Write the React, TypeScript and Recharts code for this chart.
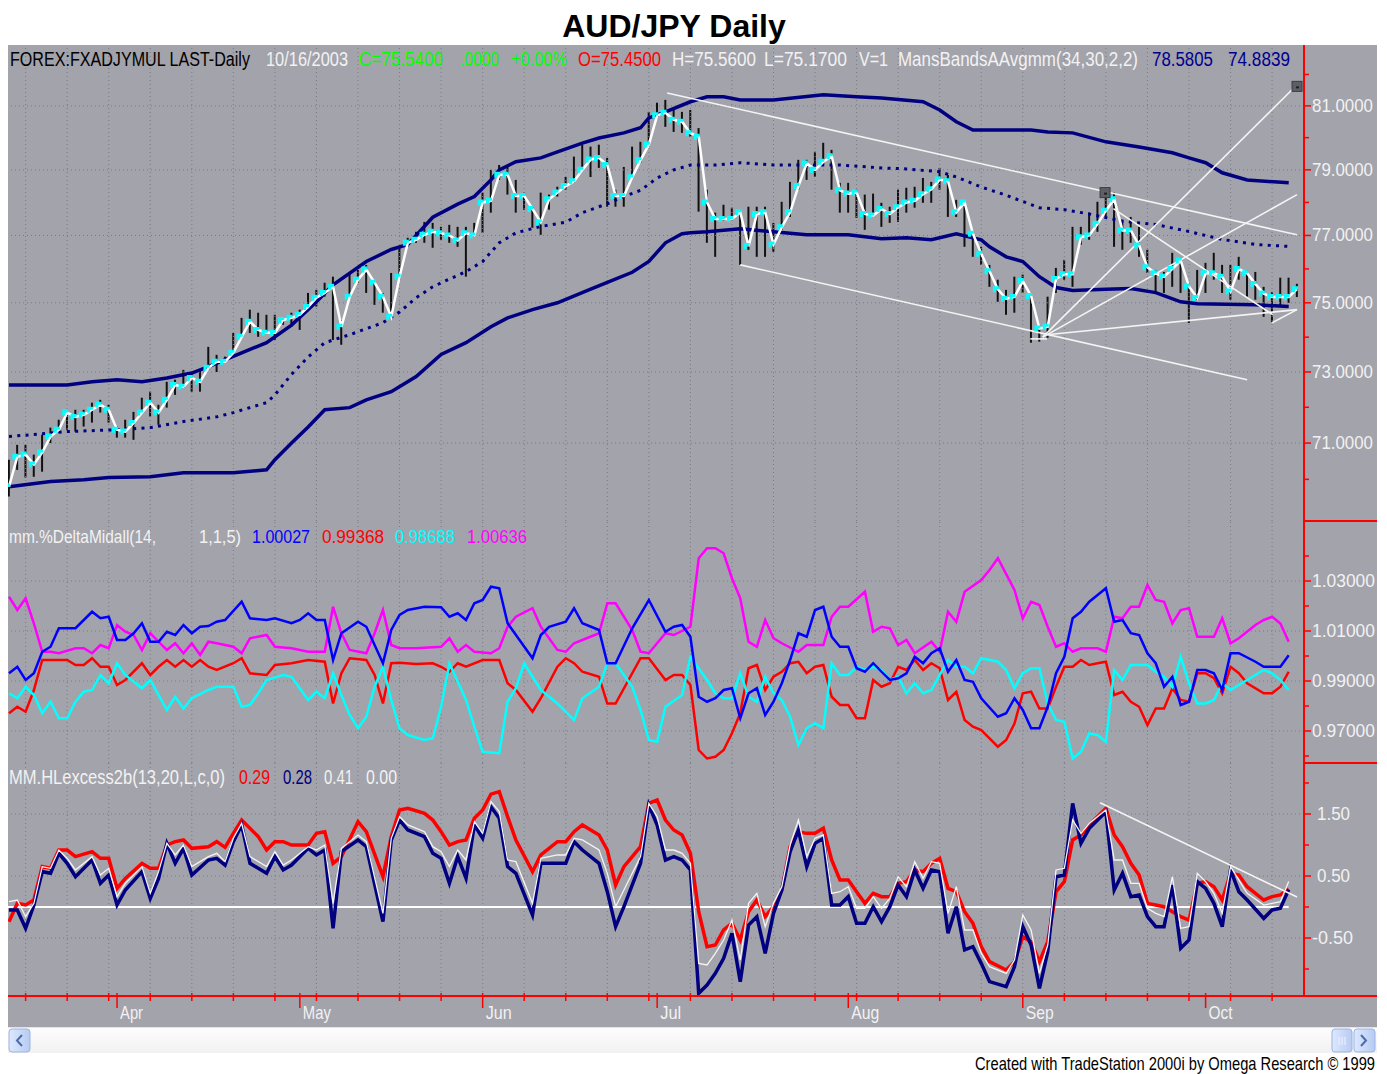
import React from 'react';
import { ComposedChart, Line, Bar, XAxis, YAxis, ReferenceLine, ReferenceDot } from 'recharts';

const FONT = "'Liberation Sans', Arial, sans-serif";
const BG = '#a3a3ab';
const GRID = '#7a7a82';
const NAVY = '#000080';
const LABEL = '#f2f2f2';

// ---------- price pane ----------
const closes = [
  69.80, 70.62, 70.68, 70.41, 70.74, 71.18, 71.37, 71.85, 71.73, 71.79,
  71.93, 72.07, 71.93, 71.37, 71.32, 71.56, 71.85, 72.13, 71.85, 72.21,
  72.63, 72.58, 72.83, 72.72, 73.12, 73.29, 73.29, 73.55, 74.01, 74.45,
  74.21, 74.13, 74.13, 74.50, 74.56, 74.65, 74.88, 75.15, 75.29, 75.47,
  74.30, 75.18, 75.68, 75.98, 75.59, 75.18, 74.59, 75.77, 76.78, 76.87,
  77.02, 77.11, 77.07, 77.00, 76.85, 77.07, 77.00, 78.00, 78.05, 78.85,
  78.85, 78.20, 78.20, 77.80, 77.40, 78.10, 78.30, 78.50, 78.65, 79.00,
  79.32, 79.37, 79.15, 78.20, 78.20, 78.77, 79.30, 79.78, 80.70, 80.78,
  80.56, 80.50, 80.14, 80.03, 78.00, 77.50, 77.50, 77.50, 77.70, 76.68,
  77.65, 77.70, 76.73, 77.25, 77.70, 78.50, 79.20, 79.00, 79.25, 79.42,
  78.37, 78.27, 78.30, 77.65, 77.60, 77.80, 77.65, 77.85, 78.00, 78.05,
  78.25, 78.40, 78.70, 78.65, 77.70, 78.00, 77.05, 76.45, 75.93, 75.40,
  75.12, 75.17, 75.64, 75.20, 74.25, 74.30, 75.70, 75.84, 75.84, 76.95,
  77.00, 77.35, 77.75, 78.10, 77.15, 77.15, 76.70, 76.05, 75.87, 75.77,
  76.00, 76.25, 75.48, 75.14, 75.87, 75.87, 75.77, 75.33, 76.00, 75.87,
  75.55, 75.27, 75.17, 75.17, 75.17, 75.40,
];
const highs = [
  70.54, 70.95, 70.95, 70.68, 71.23, 71.43, 71.65, 71.87, 71.93, 71.93,
  72.13, 72.21, 72.07, 71.46, 71.65, 71.87, 72.27, 72.44, 72.07, 72.72,
  72.78, 73.06, 72.97, 73.06, 73.72, 73.49, 73.44, 74.12, 74.56, 74.80,
  74.71, 74.65, 74.65, 74.56, 74.71, 74.80, 75.29, 75.38, 75.59, 75.77,
  74.50, 75.88, 75.97, 76.12, 75.59, 75.29, 75.88, 76.63, 76.93, 77.11,
  77.41, 77.38, 77.26, 77.32, 77.26, 77.26, 77.38, 78.30, 79.00, 79.15,
  79.09, 78.69, 78.30, 77.87, 78.30, 78.24, 78.48, 78.78, 79.41, 79.78,
  79.72, 79.78, 79.37, 78.39, 79.09, 79.72, 79.87, 80.81, 81.10, 81.19,
  80.87, 80.81, 80.87, 80.30, 78.39, 77.69, 77.93, 77.84, 77.72, 77.87,
  77.87, 77.87, 77.38, 78.02, 78.63, 79.31, 79.31, 79.56, 79.84, 79.62,
  78.60, 78.60, 78.39, 78.24, 78.27, 77.99, 77.87, 78.39, 78.45, 78.48,
  78.75, 78.63, 79.06, 78.84, 78.08, 78.05, 77.08, 76.66, 76.12, 75.68,
  75.38, 75.77, 75.83, 75.29, 74.30, 75.18, 76.03, 76.27, 77.26, 77.26,
  77.69, 78.02, 78.39, 78.30, 77.47, 77.56, 77.26, 76.57, 75.97, 75.91,
  76.48, 76.33, 75.59, 75.97, 76.18, 76.48, 76.12, 76.12, 76.36, 75.95,
  75.91, 75.47, 75.32, 75.74, 75.74, 75.56,
];
const lows = [
  69.53, 70.26, 70.05, 70.07, 70.21, 71.00, 71.29, 71.37, 71.32, 71.46,
  71.57, 71.85, 71.57, 71.15, 71.15, 71.09, 71.85, 71.74, 71.51, 71.99,
  72.35, 72.55, 72.44, 72.44, 73.06, 73.00, 73.26, 73.50, 74.01, 74.12,
  74.01, 74.12, 73.92, 74.36, 74.30, 74.21, 74.80, 74.89, 75.18, 73.92,
  73.78, 75.18, 75.59, 75.29, 74.94, 74.71, 74.59, 75.68, 76.66, 76.78,
  76.78, 76.63, 76.87, 76.78, 76.66, 75.77, 76.96, 77.08, 77.69, 78.69,
  78.24, 77.69, 77.78, 77.23, 77.02, 77.78, 78.18, 78.39, 78.60, 79.00,
  78.78, 79.06, 77.87, 77.87, 77.87, 78.78, 79.22, 79.72, 80.65, 80.34,
  80.18, 80.15, 80.03, 77.72, 76.78, 76.36, 77.45, 77.45, 76.12, 76.57,
  76.36, 76.36, 76.51, 77.17, 77.56, 78.39, 78.69, 78.78, 79.15, 78.39,
  77.69, 77.69, 77.53, 77.17, 77.56, 77.26, 77.38, 77.41, 77.69, 77.84,
  77.99, 77.99, 78.39, 77.56, 77.56, 76.66, 76.36, 76.12, 75.47, 75.03,
  74.65, 74.71, 75.29, 73.84, 73.87, 73.98, 75.29, 75.68, 75.47, 76.72,
  76.87, 77.11, 77.56, 76.66, 76.57, 76.78, 76.36, 75.88, 75.33, 75.29,
  75.47, 75.29, 74.41, 75.09, 75.29, 75.68, 75.29, 75.09, 75.68, 75.18,
  75.09, 74.59, 74.44, 74.89, 75.00, 75.17,
];

const upperBand: [number, number][] = [
  [0, 72.63], [7, 72.63], [10, 72.72], [13, 72.78], [16, 72.72], [19, 72.83], [22, 72.97], [24, 73.15],
  [28, 73.55], [31, 73.84], [34, 74.35], [37, 75.03], [39, 75.53], [43, 76.22], [46, 76.58], [48, 76.73],
  [51, 77.55], [54, 77.95], [56, 78.18], [58, 78.69], [59, 79.0], [61, 79.25], [64, 79.37], [66, 79.56],
  [69, 79.83], [71, 79.99], [74, 80.15], [76, 80.31], [77, 80.62], [79, 80.81], [82, 81.13], [84, 81.29],
  [86, 81.29], [88, 81.19], [92, 81.19], [98, 81.35], [102, 81.29], [105, 81.25], [110, 81.13], [112, 80.87],
  [114, 80.5], [116, 80.24], [120, 80.24], [123, 80.24], [125, 80.18], [128, 80.15], [132, 79.87], [136, 79.71],
  [140, 79.53], [142, 79.37], [144, 79.22], [146, 78.91], [149, 78.69], [154, 78.6],
];
const lowerBand: [number, number][] = [
  [0, 69.8], [5, 69.94], [9, 69.99], [12, 70.05], [17, 70.07], [21, 70.18], [27, 70.18], [31, 70.26],
  [32, 70.54], [34, 71.0], [36, 71.45], [38, 71.93], [41, 71.99], [43, 72.21], [46, 72.44], [49, 72.87],
  [52, 73.5], [55, 73.84], [58, 74.3], [60, 74.56], [63, 74.8], [66, 75.0], [70, 75.4], [72, 75.6],
  [75, 75.9], [77, 76.22], [79, 76.78], [81, 77.05], [82, 77.08], [84, 77.11], [88, 77.2], [92, 77.11],
  [96, 77.02], [101, 77.02], [105, 76.9], [108, 76.93], [111, 76.87], [114, 77.05], [117, 76.87], [118, 76.66],
  [120, 76.36], [122, 76.22], [124, 75.77], [126, 75.45], [128, 75.36], [132, 75.4], [135, 75.42], [138, 75.3],
  [141, 75.03], [143, 74.97], [150, 74.94], [154, 74.89],
];
const midBand: [number, number][] = [
  [0, 71.18], [7, 71.32], [13, 71.37], [17, 71.43], [21, 71.6], [25, 71.73], [27, 71.85], [31, 72.13],
  [32, 72.35], [34, 72.93], [36, 73.43], [38, 73.84], [41, 74.07], [45, 74.42], [47, 74.73], [49, 75.15],
  [51, 75.47], [53, 75.7], [55, 75.92], [57, 76.22], [59, 76.78], [61, 77.08], [64, 77.27], [67, 77.4],
  [69, 77.69], [72, 77.96], [74, 78.18], [76, 78.37], [78, 78.75], [80, 79.0], [82, 79.15], [85, 79.15],
  [88, 79.22], [92, 79.15], [96, 79.15], [100, 79.15], [105, 79.06], [108, 79.03], [112, 78.94], [114, 78.78],
  [117, 78.47], [120, 78.22], [124, 77.84], [127, 77.78], [130, 77.65], [134, 77.43], [138, 77.33], [142, 77.12],
  [146, 76.88], [150, 76.73], [154, 76.67],
];
// white drawn trendlines on price pane: [bar, price, bar, price]
const priceTrends: [number, number, number, number][] = [
  [79.2, 81.41, 155, 77.02],
  [88, 76.12, 149, 72.78],
  [124.4, 74.0, 155, 81.67],
  [124.4, 74.0, 155, 78.24],
  [124.9, 74.07, 155, 74.8],
  [132.9, 77.81, 152.1, 74.65],
  [152, 74.42, 155, 74.8],
  [122.9, 73.95, 124.9, 73.95],
];
const priceBoxes: [number, number][] = [[131.9, 78.3], [155, 81.62]];

// ---------- %DeltaMidall pane ----------
const blueOsc: [number, number][] = [
  [0, 0.9931], [1, 0.9957], [2, 0.9904], [3, 0.9931], [4, 1.0017], [5, 1.0037], [6, 1.0111], [8, 1.0111], [10, 1.0177], [11, 1.0151],
  [12, 1.0157], [13, 1.0064], [14, 1.0064], [15, 1.0091], [16, 1.0131], [17, 1.0057], [18, 1.0057], [19, 1.0097], [20, 1.0084], [21, 1.0124],
  [22, 1.0091], [23, 1.0117], [24, 1.012], [25, 1.0137], [26, 1.0144], [28, 1.0217], [29, 1.0151], [31, 1.0144], [32, 1.0151], [34, 1.0131],
  [35, 1.0144], [36, 1.0171], [37, 1.0144], [38, 1.0144], [39, 0.9984], [40, 1.0091], [42, 1.0137], [43, 1.0117], [45, 0.9971], [46, 1.0104],
  [47, 1.0164], [48, 1.0184], [50, 1.0197], [52, 1.0195], [53, 1.0157], [54, 1.0171], [55, 1.0144], [56, 1.0211], [57, 1.0224], [58, 1.0277],
  [59, 1.0271], [60, 1.0131], [63, 0.9991], [64, 1.0084], [65, 1.0117], [67, 1.0137], [68, 1.0191], [69, 1.0131], [71, 1.0104], [72, 0.9971],
  [73, 0.9971], [75, 1.0111], [77, 1.0224], [79, 1.0097], [80, 1.0117], [81, 1.0124], [82, 1.0077], [83, 0.9837], [84, 0.9817], [85, 0.9831],
  [86, 0.9864], [87, 0.9871], [88, 0.9751], [89, 0.9851], [90, 0.9871], [91, 0.9764], [92, 0.9817], [93, 0.9891], [94, 0.9984], [95, 1.0091],
  [96, 1.0077], [97, 1.0184], [98, 1.0197], [99, 1.0077], [100, 1.0037], [101, 1.0037], [102, 0.9951], [103, 0.9937], [104, 0.9971], [105, 0.9937],
  [106, 0.9904], [107, 0.9911], [108, 0.9931], [109, 0.9997], [110, 0.9971], [111, 1.0011], [112, 1.0031], [113, 0.9937], [114, 0.9984], [115, 0.9904],
  [116, 0.9897], [117, 0.9831], [119, 0.9757], [120, 0.9771], [121, 0.9831], [122, 0.9784], [123, 0.9711], [124, 0.9711], [125, 0.9797], [126, 0.9931],
  [127, 0.9997], [128, 1.0151], [129, 1.0177], [130, 1.0217], [131, 1.0244], [132, 1.0271], [133, 1.0137], [134, 1.0144], [135, 1.0091], [136, 1.0084],
  [137, 1.0011], [138, 0.9971], [139, 0.9877], [140, 0.9917], [141, 0.9804], [142, 0.9817], [143, 0.9944], [144, 0.9944], [145, 0.9931], [146, 0.9864],
  [147, 1.0011], [148, 1.0011], [150, 0.9977], [151, 0.9957], [153, 0.9957], [154, 1.0003],
];
const redOsc: [number, number][] = [
  [0, 0.9771], [1, 0.9797], [2, 0.9777], [3, 0.9864], [4, 0.9984], [5, 0.9984], [7, 0.9984], [8, 0.9964], [9, 0.9964], [10, 0.9991],
  [11, 0.9957], [12, 0.9957], [13, 0.9884], [14, 0.9904], [16, 0.9971], [17, 0.9924], [18, 0.9957], [19, 0.9984], [20, 0.9957], [21, 0.9984],
  [22, 0.9957], [23, 0.9984], [24, 0.9957], [25, 0.9944], [27, 0.9971], [28, 0.9991], [29, 0.9931], [31, 0.9924], [32, 0.9964], [34, 0.9971],
  [36, 0.9984], [38, 0.9977], [39, 0.981], [40, 0.9931], [41, 0.9991], [43, 0.9984], [44, 0.9924], [45, 0.981], [46, 0.9971], [47, 0.9973],
  [49, 0.9968], [51, 0.9971], [52, 0.9957], [53, 0.9937], [54, 0.9971], [55, 0.9957], [57, 0.9984], [59, 0.9984], [60, 0.9891], [61, 0.9864],
  [63, 0.9777], [64, 0.9831], [66, 0.9957], [67, 0.9991], [68, 0.9971], [69, 0.9937], [71, 0.9917], [72, 0.981], [73, 0.981], [75, 0.9931],
  [76, 0.9991], [77, 0.9991], [79, 0.9904], [80, 0.9924], [81, 0.9924], [82, 0.9884], [83, 0.9624], [84, 0.959], [85, 0.9597], [86, 0.9624],
  [87, 0.9691], [88, 0.9771], [89, 0.9951], [90, 0.9964], [91, 0.9864], [92, 0.9917], [93, 0.9937], [94, 0.9971], [95, 0.9977], [96, 0.9931],
  [97, 0.9957], [98, 0.9964], [99, 0.9837], [100, 0.9804], [101, 0.9804], [102, 0.9751], [103, 0.9751], [104, 0.9904], [105, 0.9877], [106, 0.9891],
  [107, 0.9957], [108, 0.9944], [109, 0.9984], [110, 0.9944], [111, 0.9971], [112, 0.9951], [113, 0.9824], [114, 0.9857], [115, 0.9744], [116, 0.9717],
  [117, 0.9704], [119, 0.9637], [120, 0.9664], [121, 0.973], [122, 0.9851], [123, 0.9857], [124, 0.979], [125, 0.979], [126, 0.9877], [127, 0.9957],
  [128, 0.9957], [129, 0.9984], [130, 0.9964], [131, 0.9971], [132, 0.9977], [133, 0.9844], [134, 0.9857], [135, 0.9817], [136, 0.9797], [137, 0.9724],
  [138, 0.979], [139, 0.979], [140, 0.9871], [141, 0.9824], [142, 0.9817], [143, 0.9931], [144, 0.9931], [145, 0.9911], [146, 0.9851], [147, 0.9957],
  [148, 0.9931], [149, 0.9891], [151, 0.9851], [152, 0.9851], [153, 0.9877], [154, 0.9937],
];
const cyanOsc: [number, number][] = [
  [0, 0.9851], [1, 0.9831], [2, 0.9877], [3, 0.9844], [4, 0.9771], [5, 0.9817], [6, 0.9751], [7, 0.9751], [8, 0.9817], [9, 0.9857],
  [10, 0.9864], [11, 0.9924], [12, 0.9891], [13, 0.9971], [14, 0.9924], [16, 0.9871], [17, 0.9904], [19, 0.9784], [20, 0.9837], [21, 0.979],
  [22, 0.9831], [24, 0.9864], [25, 0.9877], [27, 0.9877], [28, 0.9797], [29, 0.9804], [30, 0.9851], [31, 0.9904], [33, 0.9924], [34, 0.9917],
  [36, 0.9824], [37, 0.9857], [38, 0.9831], [39, 0.9931], [40, 0.9844], [41, 0.9764], [42, 0.9711], [43, 0.9757], [44, 0.9877], [45, 0.9957],
  [46, 0.9824], [47, 0.9711], [48, 0.9684], [50, 0.9664], [51, 0.9671], [52, 0.9797], [53, 0.9971], [55, 0.9824], [56, 0.9717], [57, 0.9617],
  [59, 0.9611], [60, 0.9817], [61, 0.9871], [62, 0.9971], [63, 0.9917], [64, 0.9864], [66, 0.981], [68, 0.9744], [69, 0.9831], [71, 0.9877],
  [72, 0.9971], [73, 0.9971], [75, 0.9877], [76, 0.9784], [77, 0.9664], [78, 0.9657], [79, 0.9797], [81, 0.9844], [82, 0.9997], [83, 0.9951],
  [84, 0.9904], [85, 0.9851], [86, 0.9831], [87, 0.9831], [88, 0.9931], [89, 0.9837], [90, 0.9817], [91, 0.9917], [92, 0.9851], [93, 0.9824],
  [94, 0.9757], [95, 0.9644], [96, 0.9711], [97, 0.9731], [98, 0.9711], [99, 0.9971], [100, 0.9924], [101, 0.9924], [102, 0.9957], [103, 0.9944],
  [104, 0.9957], [105, 0.9944], [106, 0.9904], [107, 0.9917], [108, 0.9851], [109, 0.9891], [110, 0.9851], [111, 0.9864], [113, 0.9984], [114, 0.9957],
  [115, 0.9957], [116, 0.9931], [117, 0.9991], [119, 0.9977], [120, 0.9944], [121, 0.9871], [122, 0.9931], [123, 0.9951], [124, 0.9951], [125, 0.981],
  [126, 0.9744], [127, 0.9737], [128, 0.959], [129, 0.9617], [130, 0.969], [131, 0.9684], [132, 0.9657], [133, 0.9944], [134, 0.9904], [135, 0.9964],
  [137, 0.9964], [138, 0.9937], [139, 0.9917], [140, 0.9877], [141, 0.9997], [142, 0.9891], [143, 0.981], [144, 0.981], [145, 0.9824], [146, 0.9891],
  [147, 0.9864], [148, 0.9884], [149, 0.9904], [151, 0.9944], [152, 0.9931], [153, 0.9904], [154, 0.9864],
];
const magentaOsc: [number, number][] = [
  [0, 1.0237], [1, 1.0184], [2, 1.0231], [3, 1.013], [4, 1.0017], [5, 1.0017], [6, 1.0011], [8, 1.0031], [9, 1.0031], [10, 1.0011],
  [11, 1.0044], [12, 1.0031], [13, 1.0124], [14, 1.0097], [15, 1.0084], [16, 1.0024], [17, 1.0091], [18, 1.0057], [19, 1.0024], [20, 1.0051],
  [21, 1.0011], [22, 1.0051], [23, 1.0004], [24, 1.0057], [25, 1.0051], [27, 1.0037], [28, 1.0011], [29, 1.0071], [31, 1.0084], [32, 1.0037],
  [34, 1.0031], [36, 1.0017], [38, 1.0017], [39, 1.0197], [40, 1.0091], [41, 1.0024], [43, 1.0011], [44, 1.0091], [45, 1.0184], [46, 1.0044],
  [47, 1.0031], [49, 1.0031], [52, 1.0037], [53, 1.0071], [54, 1.0017], [55, 1.0044], [56, 1.0017], [58, 1.0011], [59, 1.0031], [60, 1.0117],
  [61, 1.0157], [63, 1.0191], [64, 1.0117], [66, 1.0024], [67, 1.0017], [68, 1.0051], [69, 1.0064], [71, 1.0091], [72, 1.0211], [73, 1.0211],
  [75, 1.0104], [76, 1.0017], [77, 1.0011], [79, 1.0091], [80, 1.0084], [82, 1.0117], [83, 1.0391], [84, 1.0431], [85, 1.0431], [86, 1.0411],
  [87, 1.0311], [88, 1.0231], [89, 1.0057], [90, 1.0037], [91, 1.0144], [92, 1.0071], [93, 1.0051], [95, 1.0017], [96, 1.0044], [98, 1.0044],
  [99, 1.0157], [100, 1.0197], [101, 1.0197], [103, 1.0257], [104, 1.0097], [105, 1.0117], [106, 1.0111], [107, 1.0044], [108, 1.0064], [109, 1.0011],
  [111, 1.0057], [112, 1.0017], [113, 1.0177], [114, 1.0137], [115, 1.0257], [117, 1.0304], [118, 1.0344], [119, 1.0391], [121, 1.0264], [122, 1.0151],
  [123, 1.0217], [124, 1.0204], [125, 1.0117], [126, 1.0037], [127, 1.0051], [128, 1.0017], [129, 1.0031], [131, 1.0031], [132, 1.0017], [133, 1.0157],
  [134, 1.0151], [135, 1.0197], [136, 1.0197], [137, 1.0284], [138, 1.0224], [139, 1.0217], [140, 1.013], [141, 1.0184], [142, 1.0191], [143, 1.0077],
  [145, 1.0077], [146, 1.0151], [147, 1.0051], [148, 1.0071], [150, 1.0124], [151, 1.0144], [152, 1.0157], [153, 1.013], [154, 1.0057],
];

// ---------- HLexcess pane ----------
const redExc: [number, number][] = [
  [0, -0.237], [1, 0.059], [2, 0.032], [3, 0.113], [4, 0.651], [5, 0.624], [6, 0.919], [7, 0.919], [8, 0.812], [10, 0.893],
  [11, 0.785], [12, 0.785], [13, 0.301], [14, 0.462], [16, 0.704], [17, 0.624], [18, 0.624], [19, 1.0], [20, 1.054], [21, 1.081],
  [22, 0.946], [24, 0.973], [25, 1.054], [26, 0.962], [27, 1.188], [28, 1.403], [30, 1.134], [31, 0.919], [32, 1.054], [33, 1.054],
  [34, 1.0], [36, 1.0], [37, 1.188], [38, 1.215], [39, 0.704], [40, 0.812], [42, 1.376], [43, 1.215], [45, 0.489], [46, 1.134],
  [47, 1.565], [48, 1.591], [50, 1.511], [51, 1.403], [52, 1.215], [53, 1.0], [54, 1.054], [55, 1.081], [56, 1.43], [57, 1.565],
  [58, 1.82], [59, 1.86], [60, 1.457], [61, 1.081], [63, 0.57], [64, 0.839], [66, 1.054], [67, 1.054], [68, 1.215], [69, 1.323],
  [71, 1.161], [72, 0.919], [73, 0.355], [74, 0.651], [76, 0.973], [77, 1.672], [78, 1.726], [79, 1.403], [80, 1.242], [81, 1.161],
  [82, 0.866], [83, -0.075], [84, -0.64], [85, -0.613], [86, -0.371], [87, -0.263], [88, -0.532], [89, -0.075], [90, 0.113], [91, -0.156],
  [92, 0.005], [93, 0.274], [94, 0.973], [95, 1.215], [96, 1.188], [97, 1.188], [98, 1.269], [99, 0.758], [100, 0.435], [101, 0.435],
  [102, 0.247], [103, 0.059], [104, 0.22], [105, 0.167], [106, 0.167], [107, 0.382], [108, 0.409], [109, 0.597], [110, 0.57], [111, 0.704],
  [112, 0.785], [113, 0.301], [114, 0.247], [115, -0.075], [116, -0.263], [117, -0.64], [118, -0.882], [120, -1.016], [121, -0.882], [122, -0.479],
  [123, -0.559], [124, -0.882], [125, -0.559], [126, 0.247], [127, 0.409], [128, 1.081], [129, 1.161], [130, 1.323], [132, 1.591], [133, 1.161],
  [134, 0.973], [135, 0.704], [136, 0.516], [137, 0.059], [138, 0.032], [139, 0.005], [140, -0.075], [141, -0.156], [142, -0.21], [143, 0.382],
  [144, 0.409], [145, 0.328], [146, 0.113], [147, 0.543], [148, 0.516], [149, 0.328], [151, 0.113], [152, 0.167], [153, 0.194], [154, 0.29],
];
const navyExc: [number, number][] = [
  [0, -0.048], [1, -0.048], [2, -0.344], [3, 0.032], [4, 0.57], [5, 0.543], [6, 0.866], [7, 0.704], [8, 0.489], [10, 0.758],
  [11, 0.382], [12, 0.516], [13, 0.032], [14, 0.274], [16, 0.57], [17, 0.14], [18, 0.462], [19, 1.027], [20, 0.704], [21, 0.946],
  [22, 0.516], [24, 0.758], [25, 0.785], [26, 0.677], [27, 1.054], [28, 1.323], [29, 0.704], [31, 0.543], [32, 0.812], [33, 0.597],
  [34, 0.677], [36, 0.946], [37, 0.839], [38, 0.919], [39, -0.344], [40, 0.893], [42, 1.081], [43, 0.973], [45, -0.237], [46, 1.081],
  [47, 1.403], [48, 1.242], [50, 1.134], [51, 0.866], [52, 0.785], [53, 0.382], [54, 0.812], [55, 0.462], [56, 1.323], [57, 1.109],
  [58, 1.618], [59, 1.43], [60, 0.651], [61, 0.543], [63, -0.129], [64, 0.704], [66, 0.704], [67, 0.704], [68, 1.054], [69, 0.919],
  [71, 0.704], [72, 0.247], [73, -0.317], [74, 0.005], [76, 0.704], [77, 1.645], [78, 1.323], [79, 0.758], [80, 0.812], [81, 0.758],
  [82, 0.597], [83, -1.392], [84, -1.258], [85, -1.07], [86, -0.828], [87, -0.425], [88, -1.204], [89, -0.29], [90, -0.156], [91, -0.747],
  [92, -0.102], [93, 0.274], [94, 0.893], [95, 1.242], [96, 0.651], [97, 1.027], [98, 1.108], [99, 0.032], [100, 0.032], [101, 0.167],
  [102, -0.263], [103, -0.263], [104, 0.005], [105, -0.237], [106, 0.005], [107, 0.355], [108, 0.167], [109, 0.597], [110, 0.301], [111, 0.597],
  [112, 0.57], [113, -0.425], [114, 0.005], [115, -0.693], [116, -0.64], [117, -0.909], [118, -1.204], [120, -1.285], [121, -0.962], [122, -0.317],
  [123, -0.613], [124, -1.312], [125, -0.72], [126, 0.489], [127, 0.516], [128, 1.672], [129, 1.027], [130, 1.269], [132, 1.538], [133, 0.274],
  [134, 0.543], [135, 0.167], [136, 0.194], [137, -0.156], [138, -0.317], [139, -0.317], [140, 0.355], [141, -0.667], [142, -0.532], [143, 0.409],
  [144, 0.301], [145, 0.059], [146, -0.317], [147, 0.597], [148, 0.247], [149, 0.113], [151, -0.183], [152, -0.048], [153, -0.021], [154, 0.28],
];
const whiteExc: [number, number][] = [
  [0, 0.086], [1, 0.113], [2, -0.156], [3, 0.059], [4, 0.651], [5, 0.624], [6, 0.919], [7, 0.785], [8, 0.597], [10, 0.812],
  [11, 0.516], [12, 0.624], [13, 0.167], [14, 0.382], [16, 0.651], [17, 0.22], [18, 0.57], [19, 1.027], [20, 0.839], [21, 1.0],
  [22, 0.651], [24, 0.812], [25, 0.866], [26, 0.731], [27, 1.108], [28, 1.35], [29, 0.812], [31, 0.651], [32, 0.893], [33, 0.677],
  [34, 0.758], [36, 0.973], [37, 0.919], [38, 1.0], [39, 0.059], [40, 0.946], [42, 1.161], [43, 1.054], [45, -0.102], [46, 1.108],
  [47, 1.457], [48, 1.323], [50, 1.215], [51, 0.973], [52, 0.893], [53, 0.651], [54, 0.919], [55, 0.758], [56, 1.376], [57, 1.188],
  [58, 1.699], [59, 1.538], [60, 0.758], [61, 0.731], [63, 0.059], [64, 0.785], [66, 0.839], [67, 0.839], [68, 1.108], [69, 1.081],
  [71, 0.919], [72, 0.543], [73, 0.005], [74, 0.274], [76, 0.812], [77, 1.672], [78, 1.457], [79, 0.919], [80, 0.919], [81, 0.866],
  [82, 0.704], [83, -0.909], [84, -0.935], [85, -0.747], [86, -0.532], [87, -0.21], [88, -0.855], [89, 0.059], [90, 0.22], [91, -0.317],
  [92, 0.059], [93, 0.328], [94, 1.0], [95, 1.403], [96, 0.812], [97, 1.108], [98, 1.161], [99, 0.22], [100, 0.247], [101, 0.328],
  [102, -0.021], [103, -0.021], [104, 0.167], [105, -0.021], [106, 0.14], [107, 0.489], [108, 0.328], [109, 0.731], [110, 0.462], [111, 0.731],
  [112, 0.704], [113, -0.102], [114, 0.328], [115, -0.371], [116, -0.371], [117, -0.747], [118, -0.962], [120, -1.07], [121, -0.855], [122, -0.129],
  [123, -0.371], [124, -1.07], [125, -0.613], [126, 0.597], [127, 0.624], [128, 1.403], [129, 1.188], [130, 1.35], [132, 1.565], [133, 0.758],
  [134, 0.758], [135, 0.382], [136, 0.382], [137, -0.021], [138, -0.102], [139, -0.156], [140, 0.489], [141, -0.344], [142, -0.317], [143, 0.543],
  [144, 0.409], [145, 0.22], [146, -0.102], [147, 0.651], [148, 0.435], [149, 0.22], [151, 0.032], [152, 0.059], [153, 0.086], [154, 0.41],
];
const excTrend: [number, number, number, number] = [131.3, 1.68, 155, 0.16];

// ---------- axes ----------
const priceTicks = [70, 71, 72, 73, 74, 75, 76, 77, 78, 79, 80, 81, 82];
const oscTicks = [0.96, 0.97, 0.98, 0.99, 1.0, 1.01, 1.02, 1.03, 1.04];
const excTicks = [-1, -0.5, 0, 0.5, 1, 1.5, 2];
const monthTicks: [number, string, number][] = [
  [13, 'Apr', 23], [35, 'May', 28], [57, 'Jun', 26], [78, 'Jul', 21], [101, 'Aug', 28], [122, 'Sep', 28], [144, 'Oct', 24],
];
const weekTicks = [2, 7, 12, 17, 22, 27, 32, 37, 42, 47, 52, 57, 62, 67, 72, 77, 82, 87, 92, 97, 102, 107, 112, 117, 122, 127, 132, 137, 142, 147, 152];

const X_DOMAIN: [number, number] = [-0.12, 155.84];
const W = 1369;
const YW = 73;

const priceData = closes.map((c, i) => ({ i, c, hl: [lows[i], highs[i]] }));
const pts = (a: [number, number][]) => a.map(([i, v]) => ({ i, v }));
const xTicks = Array.from(new Set([...weekTicks, ...monthTicks.map((m) => m[0])])).sort((a, b) => a - b);

// text stretched vertically (condensed look); natural width is close to w
const ST = (p: { x: number; y: number; w: number; c: string; s: number; k: number; anchor?: string; children: string }) => (
  <text
    transform={`translate(${p.x} ${p.y}) scale(1 ${p.k})`}
    x={0} y={0} fill={p.c} fontSize={p.s} fontFamily={FONT}
    textAnchor={p.anchor || 'start'} textLength={p.w} lengthAdjust="spacingAndGlyphs"
  >
    {p.children}
  </text>
);

const PriceTick = (p: any) => {
  const { x, y, payload } = p;
  const v = payload.value;
  const major = Math.round(v) % 2 === 1;
  return (
    <g>
      <line x1={x} x2={x + (major ? 7 : 5)} y1={y} y2={y} stroke="#ff0000" strokeWidth={1.5} />
      {major && <ST x={x + 8} y={y + 6} w={61} c={LABEL} s={16.5} k={1.08}>{v.toFixed(4)}</ST>}
    </g>
  );
};
const OscTick = (p: any) => {
  const { x, y, payload } = p;
  const v = payload.value;
  const major = Math.round(v * 100) % 2 === 1;
  return (
    <g>
      <line x1={x} x2={x + (major ? 7 : 5)} y1={y} y2={y} stroke="#ff0000" strokeWidth={1.5} />
      {major && <ST x={x + 8} y={y + 6} w={63} c={LABEL} s={16.8} k={1.08}>{v.toFixed(5)}</ST>}
    </g>
  );
};
const ExcTick = (p: any) => {
  const { x, y, payload } = p;
  const v = payload.value;
  const major = Math.abs(Math.round(v * 2)) % 2 === 1;
  const neg = v < 0;
  return (
    <g>
      <line x1={x} x2={x + (major ? 7 : 5)} y1={y} y2={y} stroke="#ff0000" strokeWidth={1.5} />
      {major && (
        <ST x={x + (neg ? 8 : 13)} y={y + 6} w={neg ? 41 : 33} c={LABEL} s={16.8} k={1.08}>{v.toFixed(2)}</ST>
      )}
    </g>
  );
};
const XTick = (p: any) => {
  const { x, y, payload } = p;
  const m = monthTicks.find((t) => t[0] === payload.value);
  return (
    <g>
      <line x1={x} x2={x} y1={y - 3} y2={y + (m ? 12 : 5)} stroke="#ff0000" strokeWidth={1.5} />
      {m && <ST x={x + 3} y={y + 23} w={m[2]} c={LABEL} s={14.6} k={1.2}>{m[1]}</ST>}
    </g>
  );
};
const CyanTick = (p: any) => {
  const { cx, cy, index } = p;
  if (cx == null || cy == null) return <g key={`c${index}`} />;
  return <path key={`c${index}`} d={`M${cx - 5},${cy - 3}h6v3h-3v3h-3z`} fill="#00ffff" />;
};
const BoxShape = (p: any) => (
  <g>
    <rect x={p.cx - 5} y={p.cy - 5} width={10} height={10} fill="#5e5e66" stroke="#3c3c44" strokeWidth={1} />
    <rect x={p.cx - 1} y={p.cy} width={3} height={2} fill="#202020" />
  </g>
);

const gridX = (key: string) =>
  weekTicks.map((i) => <ReferenceLine key={`${key}${i}`} x={i} stroke={GRID} strokeDasharray="1 3" strokeWidth={1} />);

const H1 = 16, K1 = 1.3;
const H2 = 15.3, K2 = 1.22;
const H3 = 15.6, K3 = 1.25;

export default function App() {
  const margin = { top: 0, right: 0, bottom: 0, left: 0 };
  return (
    <div style={{ width: W, fontFamily: FONT }}>
      <div style={{ height: 37, position: 'relative' }}>
        <div
          style={{
            position: 'absolute', left: 0, top: 0, width: 1332, textAlign: 'center',
            fontFamily: FONT, fontWeight: 'bold', fontSize: 32, lineHeight: '37px', color: '#000',
          }}
        >
          AUD/JPY Daily
        </div>
      </div>
      <div style={{ position: 'relative', width: W, height: 982, background: BG }}>
        {/* price pane */}
        <ComposedChart width={W} height={476} data={priceData} margin={margin}>
          <XAxis dataKey="i" type="number" domain={X_DOMAIN} allowDataOverflow hide />
          <YAxis
            orientation="right" type="number" scale="log" domain={[68.87, 82.95]} allowDataOverflow width={YW}
            ticks={priceTicks} interval={0} tickSize={0} tickMargin={0} tickLine={false}
            axisLine={{ stroke: '#ff0000', strokeWidth: 2 }} tick={<PriceTick />}
          />
          {gridX('pg')}
          {priceTicks.filter((v) => v % 2 === 1).map((v) => (
            <ReferenceLine key={`ph${v}`} y={v} stroke={GRID} strokeDasharray="1 3" />
          ))}
          <Line data={pts(upperBand)} dataKey="v" stroke={NAVY} strokeWidth={3.5} dot={false} isAnimationActive={false} />
          <Line data={pts(lowerBand)} dataKey="v" stroke={NAVY} strokeWidth={3.5} dot={false} isAnimationActive={false} />
          <Line data={pts(midBand)} dataKey="v" stroke={NAVY} strokeWidth={3} strokeDasharray="3 5.3" dot={false} isAnimationActive={false} />
          <Bar dataKey="hl" barSize={2} fill="#111111" isAnimationActive={false} />
          <Line dataKey="c" stroke="#ffffff" strokeWidth={2.5} dot={false} isAnimationActive={false} />
          <Line dataKey="c" stroke="none" dot={<CyanTick />} activeDot={false} isAnimationActive={false} />
          {priceTrends.map(([x1, y1, x2, y2], k) => (
            <ReferenceLine key={`pt${k}`} segment={[{ x: x1, y: y1 }, { x: x2, y: y2 }]} stroke="#f4f4f4" strokeWidth={1.6} ifOverflow="visible" />
          ))}
          {priceBoxes.map(([x, y], k) => (
            <ReferenceDot key={`pb${k}`} x={x} y={y} r={5} shape={<BoxShape />} ifOverflow="visible" />
          ))}
        </ComposedChart>

        {/* oscillator pane */}
        <ComposedChart width={W} height={242} data={priceData} margin={margin}>
          <XAxis dataKey="i" type="number" domain={X_DOMAIN} allowDataOverflow hide />
          <YAxis
            orientation="right" type="number" domain={[0.9572, 1.054]} allowDataOverflow width={YW}
            ticks={oscTicks} interval={0} tickSize={0} tickMargin={0} tickLine={false}
            axisLine={{ stroke: '#ff0000', strokeWidth: 2 }} tick={<OscTick />}
          />
          {gridX('og')}
          {[0.97, 0.99, 1.01, 1.03].map((v) => (
            <ReferenceLine key={`oh${v}`} y={v} stroke={GRID} strokeDasharray="1 3" />
          ))}
          <Line data={pts(magentaOsc)} dataKey="v" stroke="#ff00ff" strokeWidth={2.5} dot={false} isAnimationActive={false} />
          <Line data={pts(redOsc)} dataKey="v" stroke="#ff0000" strokeWidth={2.5} dot={false} isAnimationActive={false} />
          <Line data={pts(cyanOsc)} dataKey="v" stroke="#00ffff" strokeWidth={2.5} dot={false} isAnimationActive={false} />
          <Line data={pts(blueOsc)} dataKey="v" stroke="#0000ff" strokeWidth={2.5} dot={false} isAnimationActive={false} />
        </ComposedChart>

        {/* HLexcess pane */}
        <ComposedChart width={W} height={264} data={priceData} margin={margin}>
          <XAxis
            dataKey="i" type="number" domain={X_DOMAIN} allowDataOverflow height={31}
            ticks={xTicks} interval={0} tickSize={0} tickMargin={0} tickLine={false}
            axisLine={{ stroke: '#ff0000', strokeWidth: 2 }} tick={<XTick />}
          />
          <YAxis
            orientation="right" type="number" domain={[-1.4355, 2.3226]} allowDataOverflow width={YW}
            ticks={excTicks} interval={0} tickSize={0} tickMargin={0} tickLine={false}
            axisLine={{ stroke: '#ff0000', strokeWidth: 2 }} tick={<ExcTick />}
          />
          {gridX('eg')}
          {[-0.5, 0.5, 1.5].map((v) => (
            <ReferenceLine key={`eh${v}`} y={v} stroke={GRID} strokeDasharray="1 3" />
          ))}
          <ReferenceLine segment={[{ x: -0.12, y: 0 }, { x: 154, y: 0 }]} stroke="#ffffff" strokeWidth={2} />
          <Line data={pts(redExc)} dataKey="v" stroke="#ff0000" strokeWidth={3.5} dot={false} isAnimationActive={false} />
          <Line data={pts(navyExc)} dataKey="v" stroke={NAVY} strokeWidth={3.5} dot={false} isAnimationActive={false} />
          <Line data={pts(whiteExc)} dataKey="v" stroke="#f4f4f4" strokeWidth={1.3} dot={false} isAnimationActive={false} />
          <ReferenceLine
            segment={[{ x: excTrend[0], y: excTrend[1] }, { x: excTrend[2], y: excTrend[3] }]}
            stroke="#f4f4f4" strokeWidth={1.6} ifOverflow="visible"
          />
        </ComposedChart>

        <svg width={W} height={982} style={{ position: 'absolute', left: 0, top: 0, pointerEvents: 'none' }}>
          <line x1={1296} x2={W} y1={476} y2={476} stroke="#ff0000" strokeWidth={2} />
          <line x1={1296} x2={W} y1={718} y2={718} stroke="#ff0000" strokeWidth={2} />
          <line x1={1296} x2={W} y1={951} y2={951} stroke="#ff0000" strokeWidth={2} />
          <ST x={2} y={21} w={240} c="#000000" s={H1} k={K1}>FOREX:FXADJYMUL LAST-Daily</ST>
          <ST x={258} y={21} w={82} c={LABEL} s={H1} k={K1}>10/16/2003</ST>
          <ST x={351} y={21} w={84} c="#00ff00" s={H1} k={K1}>C=75.5400</ST>
          <ST x={452} y={21} w={39} c="#00ff00" s={H1} k={K1}>.0000</ST>
          <ST x={503} y={21} w={56} c="#00ff00" s={H1} k={K1}>+0.00%</ST>
          <ST x={570} y={21} w={83} c="#ff0000" s={H1} k={K1}>O=75.4500</ST>
          <ST x={664} y={21} w={84} c={LABEL} s={H1} k={K1}>H=75.5600</ST>
          <ST x={756} y={21} w={83} c={LABEL} s={H1} k={K1}>L=75.1700</ST>
          <ST x={851} y={21} w={29} c={LABEL} s={H1} k={K1}>V=1</ST>
          <ST x={890} y={21} w={240} c={LABEL} s={H1} k={K1}>MansBandsAAvgmm(34,30,2,2)</ST>
          <ST x={1144} y={21} w={61} c="#000090" s={H1} k={K1}>78.5805</ST>
          <ST x={1220} y={21} w={62} c="#000090" s={H1} k={K1}>74.8839</ST>

          <ST x={1} y={498} w={147} c={LABEL} s={H2} k={K2}>mm.%DeltaMidall(14,</ST>
          <ST x={191} y={498} w={42} c={LABEL} s={H2} k={K2}>1,1,5)</ST>
          <ST x={244} y={498} w={58} c="#0000ff" s={H2} k={K2}>1.00027</ST>
          <ST x={314} y={498} w={62} c="#ff0000" s={H2} k={K2}>0.99368</ST>
          <ST x={387} y={498} w={60} c="#00ffff" s={H2} k={K2}>0.98688</ST>
          <ST x={459} y={498} w={60} c="#ff00ff" s={H2} k={K2}>1.00636</ST>

          <ST x={1} y={739} w={216} c={LABEL} s={H3} k={K3}>MM.HLexcess2b(13,20,L,c,0)</ST>
          <ST x={231} y={739} w={31} c="#ff0000" s={H3} k={K3}>0.29</ST>
          <ST x={275} y={739} w={29} c="#000080" s={H3} k={K3}>0.28</ST>
          <ST x={316} y={739} w={29} c={LABEL} s={H3} k={K3}>0.41</ST>
          <ST x={358} y={739} w={31} c={LABEL} s={H3} k={K3}>0.00</ST>
        </svg>
      </div>

      {/* scrollbar */}
      <div style={{ position: 'relative', width: W, height: 26, background: 'linear-gradient(#fdfdfd,#f1f1f3)', borderTop: '1px solid #e4e4e8', boxSizing: 'border-box' }}>
        <svg width={W} height={25} style={{ position: 'absolute', left: 0, top: 0 }}>
          <defs>
            <linearGradient id="btn" x1="0" y1="0" x2="1" y2="0">
              <stop offset="0" stopColor="#dde8fc" />
              <stop offset="1" stopColor="#b7cbf3" />
            </linearGradient>
          </defs>
          <rect x={1} y={1} width={21} height={23} rx={3} fill="url(#btn)" stroke="#9db3e2" />
          <path d="M14,7 L9,12.5 L14,18" fill="none" stroke="#4d6cb0" strokeWidth={2} />
          <rect x={1324} y={1} width={20} height={23} rx={3} fill="url(#btn)" stroke="#9db3e2" />
          <path d="M1331,9v8M1334,9v8M1337,9v8" stroke="#eef3fe" strokeWidth={1} />
          <rect x={1346} y={1} width={21} height={23} rx={3} fill="url(#btn)" stroke="#9db3e2" />
          <path d="M1353,7 L1358,12.5 L1353,18" fill="none" stroke="#4d6cb0" strokeWidth={2} />
        </svg>
      </div>
      <svg width={W} height={22} style={{ display: 'block' }}>
        <ST x={W - 402} y={17} w={400} c="#000000" s={14.4} k={1.25}>Created with TradeStation 2000i by Omega Research © 1999</ST>
      </svg>
    </div>
  );
}
